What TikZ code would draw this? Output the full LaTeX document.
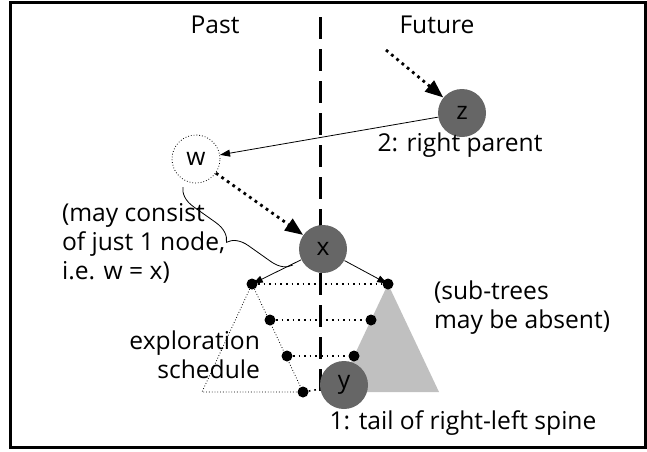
\documentclass[tikz,border=0pt]{standalone}
\usepackage{fontspec}
\setmainfont{Open Sans}
\usetikzlibrary{positioning,arrows.meta,decorations.pathreplacing}

\begin{document}
\begin{tikzpicture}[x=0.5pt,y=-0.5pt,
    font=\fontsize{12.3}{14.5}\selectfont,
    full/.style={circle, fill=nodegray, minimum size=24pt, inner sep=0pt},
    ghost/.style={circle, draw, densely dotted, thin, minimum size=24pt, inner sep=0pt},
    dot/.style={circle, fill=black, minimum size=5.5pt, inner sep=0pt},
    hop/.style={line width=1.4pt, dotted, -{Triangle[length=9pt,width=7pt]}},
    link/.style={thin, -{Triangle[length=5pt,width=3.5pt]}},
    pair/.style={thick, dotted}]
  % colors close to the figure
  \definecolor{nodegray}{RGB}{102,102,102}
  \definecolor{treegray}{RGB}{192,192,192}

  \useasboundingbox (0,0) rectangle (647,451);
  % frame
  \draw[line width=1.5pt] (10.5,2) rectangle (645.5,447.5);

  % headings
  \node (past) at (215,25) {Past};
  \node (future) at (437,25) {Future};

  % sub-tree on the right and exploration triangle on the left
  \fill[treegray] (388,284) -- (439,392) -- (337,392) -- cycle;
  \draw[densely dotted, thin] (252,284) -- (202,392) -- (303,392) -- cycle;

  % border between past and future
  \draw[line width=1.5pt, dash pattern=on 11pt off 5pt] (320,17) -- (320,400);

  % dots of the two spines
  \node[dot] (l1) at (252,284) {};
  \node[dot] (r1) at (388,284) {};
  \node[dot] (l2) at (270,320) {};
  \node[dot] (r2) at (371,320) {};
  \node[dot] (l3) at (287,356) {};
  \node[dot] (r3) at (354,356) {};
  \node[dot] (l4) at (303,392) {};

  % tree nodes
  \node[full] (z) at (462,113) {z};
  \node[ghost, fill=white] (w) at (196,159) {w};
  \node[full] (x) at (323,249) {x};
  \node[full] (y) at (344,385) {y};
  \coordinate (zin) at (386,50);

  % schedule lines
  \draw[pair] (l1) -- (r1);
  \draw[pair] (l2) -- (r2);
  \draw[pair] (l3) -- (r3);
  \draw[pair] (l4) -- (y);

  % connectors
  \draw[hop] (zin) -- (z);
  \draw[link] (z) -- (w);
  \draw[hop] (w) -- (x);
  \draw[link, shorten >=-2.5pt] (x) -- (l1);
  \draw[link, shorten >=-2.5pt] (x) -- (r1);

  % brace from w down to x
  \coordinate (bs) at (183,187);
  \coordinate (be) at (293,265);
  \draw[thin, decorate, decoration={brace, mirror, amplitude=10pt}] (bs) -- (be);

  % labels
  \node (zlab) at (460,145) {2: right parent};
  \node (ylab) at (463,423) {1: tail of right-left spine};
  \node[anchor=west, align=left] (wlab) at (55,243) {(may consist\\of just 1 node,\\i.e. w = x)};
  \node[anchor=east, align=right] (slab) at (267,355) {exploration\\schedule};
  \node[anchor=west, align=left] (tlab) at (427,308) {(sub-trees\\may be absent)};
\end{tikzpicture}
\end{document}
